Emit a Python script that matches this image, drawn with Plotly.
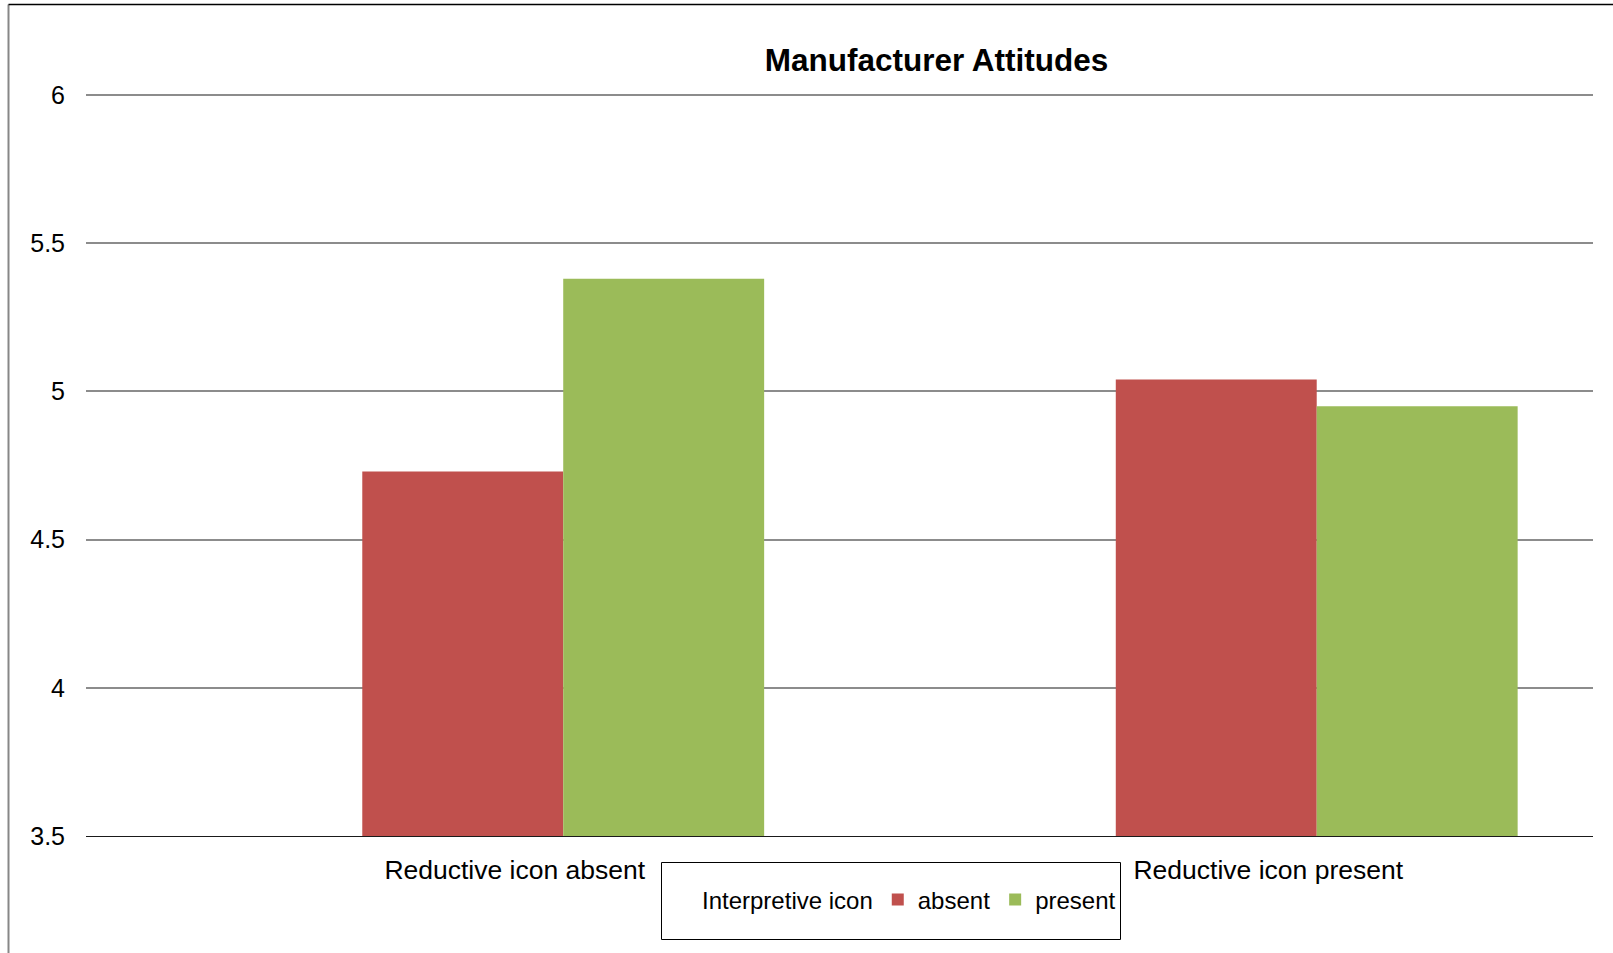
import plotly.graph_objects as go

# Chart data
categories = ["Reductive icon absent", "Reductive icon present"]
series_names = ["Interpretive icon", "absent", "present"]
header_values = [None, None]          # legend header series, no bars
absent_values = [4.73, 5.04]
present_values = [5.38, 4.95]
y_ticks = [3.5, 4, 4.5, 5, 5.5, 6]
y_tick_labels = ["3.5", "4", "4.5", "5", "5.5", "6"]

# Canvas and plot-area geometry (value 6 sits at y=95px, 3.5 at y=836px)
W, H = 1613, 953
PX_PER_UNIT = (836 - 95) / 2.5
TOP_PAD = 3                         # keeps the top gridline off the edge
ML, MR, MT, MB = 86, 20, 95 - TOP_PAD, 117
PW, PH = W - ML - MR, H - MT - MB
Y_MAX = 6 + TOP_PAD / PX_PER_UNIT


def px_x(x):
    return (x - ML) / PW


def px_y(y):
    return (H - MB - y) / PH


FONT = "Arial, 'Liberation Sans', Helvetica, sans-serif"
RED = "#C0504D"
GREEN = "#9BBB59"
CLEAR = "rgba(0,0,0,0)"

fig = go.Figure()
fig.add_trace(go.Bar(x=categories, y=header_values, name=series_names[0],
                     marker=dict(color=CLEAR, line=dict(width=0, color=CLEAR))))
fig.add_trace(go.Bar(x=categories, y=absent_values, name=series_names[1],
                     marker=dict(color=RED, line=dict(width=0))))
fig.add_trace(go.Bar(x=categories, y=present_values, name=series_names[2],
                     marker=dict(color=GREEN, line=dict(width=0))))

shapes = [
    # outer frame: left edge and top edge
    dict(type="line", xref="paper", yref="paper",
         x0=px_x(8.5), x1=px_x(8.5), y0=px_y(4.5), y1=px_y(H + 5),
         line=dict(color="#878787", width=2)),
    dict(type="line", xref="paper", yref="paper",
         x0=px_x(8.5), x1=px_x(W + 5), y0=px_y(4.5), y1=px_y(4.5),
         line=dict(color="#000000", width=1.5)),
    # legend frame
    dict(type="rect", xref="paper", yref="paper",
         x0=px_x(661.5), x1=px_x(1120.5), y0=px_y(862.5), y1=px_y(939.5),
         line=dict(color="#000000", width=1), fillcolor=CLEAR),
]

fig.update_layout(
    width=W, height=H,
    margin=dict(l=ML, r=MR, t=MT, b=MB, autoexpand=False),
    paper_bgcolor="white", plot_bgcolor="white",
    font=dict(family=FONT, color="#000000", size=25),
    barmode="group", bargap=0.2, bargroupgap=0,
    title=dict(text="<b>Manufacturer Attitudes</b>",
               font=dict(family=FONT, size=31.5, color="#000000"),
               xref="container", yref="container",
               x=936.5 / W, xanchor="center",
               y=1 - 59.5 / H, yanchor="middle"),
    xaxis=dict(type="category", showgrid=False, zeroline=False,
               showline=True, linecolor="#1a1a1a", linewidth=1,
               ticks="", tickfont=dict(size=26.5),
               ticklabelstandoff=10, ticklabelshift=52),
    yaxis=dict(range=[3.5, Y_MAX], tickvals=y_ticks, ticktext=y_tick_labels,
               showgrid=True, gridcolor="#8c8c8c", gridwidth=2,
               zeroline=False, showline=False, ticks="",
               tickfont=dict(size=25), ticklabelstandoff=20),
    legend=dict(orientation="h", x=px_x(662), xanchor="left",
                y=px_y(900), yanchor="middle",
                bgcolor=CLEAR, borderwidth=0,
                font=dict(family=FONT, size=24, color="#000000"),
                traceorder="normal"),
    shapes=shapes,
)

fig.write_html("out.html")
